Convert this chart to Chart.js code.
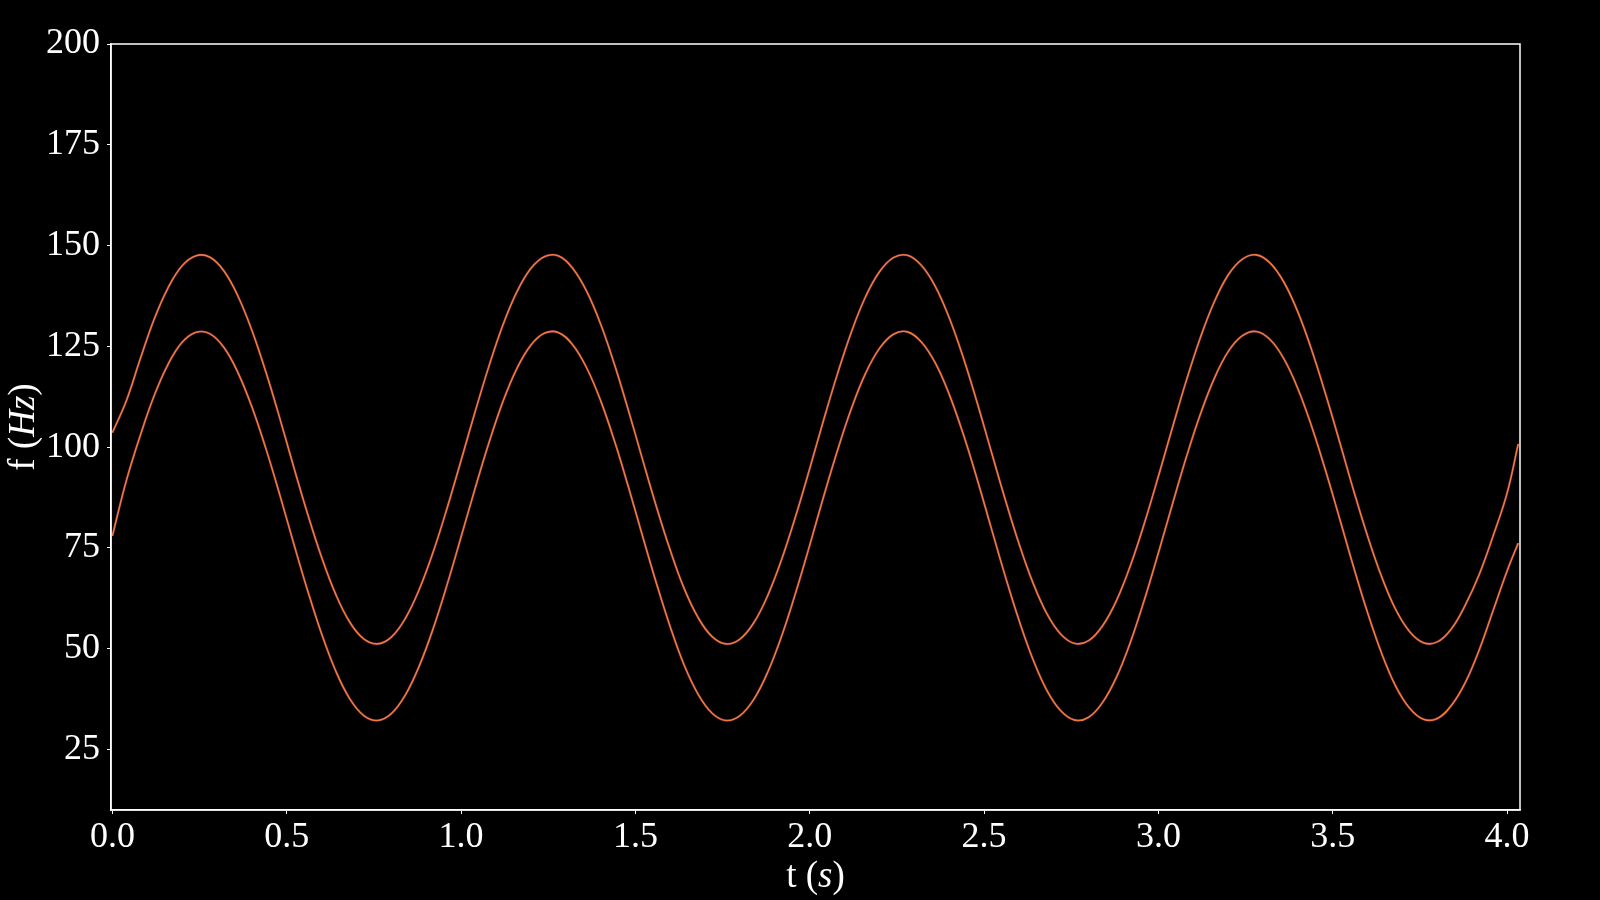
<!DOCTYPE html>
<html>
<head>
<meta charset="utf-8">
<script src="https://cdn.jsdelivr.net/npm/chart.js@4"></script>
<style>
  html, body { margin: 0; padding: 0; background: #000; }
  canvas { display: block; }
</style>
</head>
<body>
<canvas id="freqChart" width="1600" height="900"></canvas>
<script>
// time axis (s)
const times = [
    0.00, 0.04, 0.08, 0.12, 0.16, 0.20, 0.24, 0.28, 0.32, 0.36,
    0.40, 0.44, 0.48, 0.52, 0.56, 0.60, 0.64, 0.68, 0.72, 0.76,
    0.80, 0.84, 0.88, 0.92, 0.96, 1.00, 1.04, 1.08, 1.12, 1.16,
    1.20, 1.24, 1.28, 1.32, 1.36, 1.40, 1.44, 1.48, 1.52, 1.56,
    1.60, 1.64, 1.68, 1.72, 1.76, 1.80, 1.84, 1.88, 1.92, 1.96,
    2.00, 2.04, 2.08, 2.12, 2.16, 2.20, 2.24, 2.28, 2.32, 2.36,
    2.40, 2.44, 2.48, 2.52, 2.56, 2.60, 2.64, 2.68, 2.72, 2.76,
    2.80, 2.84, 2.88, 2.92, 2.96, 3.00, 3.04, 3.08, 3.12, 3.16,
    3.20, 3.24, 3.28, 3.32, 3.36, 3.40, 3.44, 3.48, 3.52, 3.56,
    3.60, 3.64, 3.68, 3.72, 3.76, 3.80, 3.84, 3.88, 3.92, 3.96,
    4.00, 4.032
];

// upper curve (Hz)
const upperFreq = [
    103.6, 111.5, 121.9, 131.8, 139.6, 145.0, 147.5, 147.1, 143.7, 137.5,
    129.0, 118.7, 107.2, 95.1, 83.4, 72.7, 63.6, 56.7, 52.5, 51.2,
    52.9, 57.5, 64.7, 74.0, 84.9, 96.7, 108.7, 120.1, 130.3, 138.5,
    144.3, 147.3, 147.4, 144.4, 138.7, 130.6, 120.5, 109.1, 97.1, 85.3,
    74.4, 64.9, 57.7, 53.0, 51.2, 52.4, 56.5, 63.3, 72.3, 83.0,
    94.7, 106.8, 118.3, 128.7, 137.3, 143.5, 147.0, 147.6, 145.1, 139.9,
    132.1, 122.3, 111.1, 99.1, 87.2, 76.1, 66.4, 58.7, 53.6, 51.3,
    52.0, 55.7, 62.0, 70.7, 81.2, 92.8, 104.8, 116.5, 127.1, 136.0,
    142.7, 146.6, 147.7, 145.7, 140.9, 133.5, 124.0, 113.0, 101.2, 89.2,
    77.9, 67.9, 59.8, 54.3, 51.5, 51.7, 54.9, 60.8, 68.4, 78.0,
    88.6, 100.8
];

// lower curve (Hz)
const lowerFreq = [
    78.0, 91.7, 102.9, 112.8, 120.6, 126.0, 128.5, 128.1, 124.7, 118.5,
    110.0, 99.7, 88.2, 76.1, 64.4, 53.7, 44.6, 37.7, 33.5, 32.2,
    33.9, 38.5, 45.7, 55.0, 65.9, 77.7, 89.7, 101.1, 111.3, 119.5,
    125.3, 128.3, 128.4, 125.4, 119.7, 111.6, 101.5, 90.1, 78.1, 66.3,
    55.4, 45.9, 38.7, 34.0, 32.2, 33.4, 37.5, 44.3, 53.3, 64.0,
    75.7, 87.8, 99.3, 109.7, 118.3, 124.5, 128.0, 128.6, 126.1, 120.9,
    113.1, 103.3, 92.1, 80.1, 68.2, 57.1, 47.4, 39.7, 34.6, 32.3,
    33.0, 36.7, 43.0, 51.7, 62.2, 73.8, 85.8, 97.5, 108.1, 117.0,
    123.7, 127.6, 128.7, 126.7, 121.9, 114.5, 105.0, 94.0, 82.2, 70.2,
    58.9, 48.9, 40.8, 35.3, 32.5, 32.7, 35.9, 41.6, 49.7, 59.5,
    69.3, 76.2
];

const xTicks = [0.0, 0.5, 1.0, 1.5, 2.0, 2.5, 3.0, 3.5, 4.0];
const yTicks = [25, 50, 75, 100, 125, 150, 175, 200];

const FONT = '"Liberation Serif", "DejaVu Serif", serif';
const LINE_COLOR = '#f27b34';
const EDGE_COLOR = 'rgba(150, 45, 140, 0.45)';

function toPoints(values) {
    return times.map((t, i) => ({ x: t, y: values[i] }));
}

function makeDataset(values, color, width, order) {
    return {
        data: toPoints(values),
        borderColor: color,
        borderWidth: width,
        pointRadius: 0,
        fill: false,
        tension: 0.4,
        order: order // lower order is drawn on top
    };
}

// black background behind everything
const background = {
    id: 'background',
    beforeDraw(chart) {
        const ctx = chart.ctx;
        ctx.save();
        ctx.fillStyle = '#000';
        ctx.fillRect(0, 0, chart.width, chart.height);
        ctx.restore();
    }
};

// box around the plot area + axis titles with italic math parts
const frameAndTitles = {
    id: 'frameAndTitles',
    afterDraw(chart) {
        const ctx = chart.ctx;
        const area = chart.chartArea;
        ctx.save();
        ctx.strokeStyle = '#fff';
        ctx.lineWidth = 1.5;
        ctx.strokeRect(area.left, area.top, area.right - area.left, area.bottom - area.top);

        ctx.fillStyle = '#fff';
        ctx.textBaseline = 'alphabetic';
        const drawParts = (parts) => {
            let total = 0;
            parts.forEach(p => { ctx.font = p[1]; total += ctx.measureText(p[0]).width; });
            let x = -total / 2;
            parts.forEach(p => {
                ctx.font = p[1];
                ctx.fillText(p[0], x, 0);
                x += ctx.measureText(p[0]).width;
            });
        };
        const normal = '37px ' + FONT;
        const italic = 'italic 37px ' + FONT;

        ctx.save();
        ctx.translate((area.left + area.right) / 2, 887);
        drawParts([['t (', normal], ['s', italic], [')', normal]]);
        ctx.restore();

        ctx.save();
        ctx.translate(34, (area.top + area.bottom) / 2);
        ctx.rotate(-Math.PI / 2);
        drawParts([['f (', normal], ['Hz', italic], [')', normal]]);
        ctx.restore();

        ctx.restore();
    }
};

const ctx = document.getElementById('freqChart').getContext('2d');
new Chart(ctx, {
    type: 'line',
    data: {
        datasets: [
            makeDataset(upperFreq, LINE_COLOR, 1.6, 0),
            makeDataset(lowerFreq, LINE_COLOR, 1.6, 0),
            makeDataset(upperFreq, EDGE_COLOR, 2.6, 1),
            makeDataset(lowerFreq, EDGE_COLOR, 2.6, 1)
        ]
    },
    options: {
        responsive: false,
        animation: false,
        devicePixelRatio: 1,
        layout: {
            padding: { top: 44, right: 80, left: 0, bottom: 0 }
        },
        plugins: {
            legend: { display: false },
            tooltip: { enabled: false }
        },
        scales: {
            x: {
                type: 'linear',
                min: -0.004,
                max: 4.037,
                afterBuildTicks: scale => { scale.ticks = xTicks.map(v => ({ value: v })); },
                afterFit: scale => { scale.height = 90; },
                ticks: {
                    color: '#fff',
                    font: { family: FONT, size: 36 },
                    padding: 2,
                    autoSkip: false,
                    maxRotation: 0,
                    callback: v => v.toFixed(1)
                },
                grid: { drawOnChartArea: false, drawTicks: true, tickLength: 4, color: '#fff', lineWidth: 1 },
                border: { display: true, color: '#fff', width: 1.5 }
            },
            y: {
                type: 'linear',
                min: 10,
                max: 200,
                afterBuildTicks: scale => { scale.ticks = yTicks.map(v => ({ value: v })); },
                afterFit: scale => { scale.width = 111; },
                ticks: {
                    color: '#fff',
                    font: { family: FONT, size: 36 },
                    padding: 7,
                    autoSkip: false,
                    callback: v => String(v)
                },
                grid: { drawOnChartArea: false, drawTicks: true, tickLength: 4, color: '#fff', lineWidth: 1 },
                border: { display: true, color: '#fff', width: 1.5 }
            }
        }
    },
    plugins: [background, frameAndTitles]
});
</script>
</body>
</html>
